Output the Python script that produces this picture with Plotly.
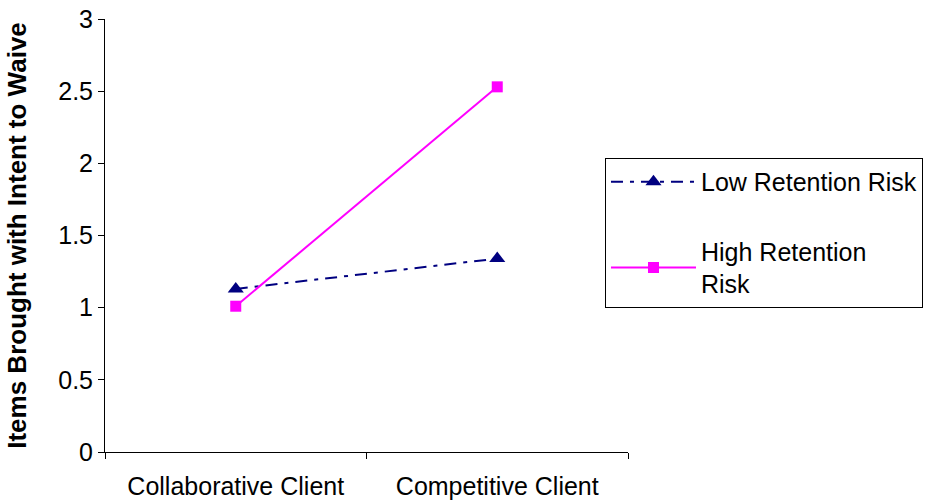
import plotly.graph_objects as go

categories = ["Collaborative Client", "Competitive Client"]
low_risk = [1.13, 1.34]
high_risk = [1.01, 2.53]
series_names = ["Low Retention Risk", "High Retention<br>Risk"]

fig = go.Figure()
fig.add_trace(go.Scatter(
    x=categories, y=low_risk, name=series_names[0], mode="lines+markers",
    line=dict(color="#000080", width=2, dash="12px,7px,4px,7px"),
    marker=dict(symbol="triangle-up", size=14, color="#000080"),
    legendgroup="a"))
fig.add_trace(go.Scatter(
    x=categories, y=high_risk, name=series_names[1], mode="lines+markers",
    line=dict(color="#FF00FF", width=2),
    marker=dict(symbol="square", size=11, color="#FF00FF"),
    legendgroup="b"))

font = "Liberation Sans, Arial, sans-serif"
fig.update_layout(
    width=926, height=504,
    margin=dict(l=105, r=298, t=19, b=52, autoexpand=False),
    paper_bgcolor="white", plot_bgcolor="white",
    font=dict(family=font, size=25, color="black"),
    legend=dict(x=0.956, y=0.679, xanchor="left", yanchor="top",
                bordercolor="black", borderwidth=1,
                font=dict(size=25, family=font), itemwidth=85,
                tracegroupgap=34, traceorder="grouped"),
    xaxis=dict(type="category", range=[-0.5, 1.5], showline=True,
               linecolor="black", linewidth=1, ticks="outside",
               tickson="boundaries", ticklen=6, tickcolor="black",
               showgrid=False, zeroline=False, tickfont=dict(size=25),
               automargin=False, ticklabelstandoff=12),
    yaxis=dict(range=[0, 3], dtick=0.5, showline=True, linecolor="black",
               linewidth=1, ticks="outside", ticklen=6, tickcolor="black",
               showgrid=False, zeroline=False, tickfont=dict(size=25),
               automargin=False,
               title=dict(text="<b>Items Brought with Intent to Waive</b>",
                          font=dict(size=26), standoff=24)),
)
fig.write_html("out.html")
